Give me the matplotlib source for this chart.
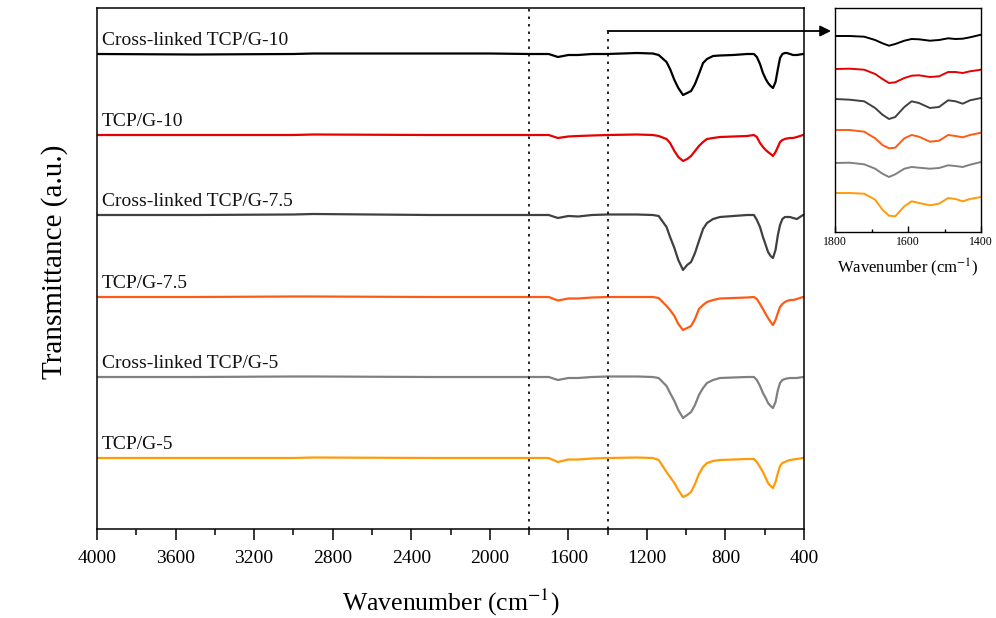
import matplotlib
matplotlib.use("Agg")
import matplotlib.pyplot as plt
import numpy as np

plt.rcParams['font.family'] = ['Liberation Serif', 'DejaVu Serif']
plt.rcParams['mathtext.fontset'] = 'stix'

# ---------------- data ----------------
series_names = ["Cross-linked TCP/G-10", "TCP/G-10", "Cross-linked TCP/G-7.5",
                "TCP/G-7.5", "Cross-linked TCP/G-5", "TCP/G-5"]

wavenumber = [4000, 3500, 3000, 2900, 2300, 2000, 1800, 1700, 1653, 1600, 1550, 1480, 1400,
              1250, 1170, 1140, 1100, 1082, 1060, 1040, 1016, 995, 975, 955, 935, 914, 894,
              863, 828, 760, 690, 655, 640, 624, 609, 595, 583, 570, 558, 545, 533, 522,
              510, 497, 487, 471, 456, 436, 405, 400]

# absorption depth (a.u.) below each curve's baseline
depth_xl10 = [0, 0.5, 0, -0.5, -0.5, -0.5, 0, 0, 3, 1, 1, 0, 0,
              -1, -0.5, 1, 8, 15, 26, 34, 41, 39, 37, 30, 20, 9, 5,
              2, 1.5, 1, 0, 0, 3, 10, 19, 25, 29, 32, 34, 28, 15, 4,
              0, -1, -1, 0, 1, 1, 0, 0]
depth_10 = [0, 0, 0, -0.5, 0, 0, 0, 0, 3, 1.5, 1, 0.5, 0,
            -0.5, 0, 1, 4, 8, 16, 22, 26, 24, 21, 16, 11, 7, 4,
            3, 2, 1.5, 1, 0, 2, 8, 12, 15, 17, 19, 21, 17, 12, 7,
            5, 4, 3.5, 3, 3, 2, 0, 0]
depth_xl75 = [0, 0, -0.5, -1, 0, 0, 0, 0, 3, 1, 1.5, 0, -0.5,
              -0.5, 0, 1, 12, 22, 33, 45, 55, 50, 47, 38, 26, 14, 8,
              4, 2, 1, 0, 0, 5, 12, 22, 30, 37, 41, 43, 35, 20, 10,
              4, 2, 2, 2, 3, 4, 0, 0]
depth_75 = [0, 0, -0.5, -0.5, 0, 0, 0, 0, 3.5, 1.5, 1.5, 0.5, 0,
            0, 0, 1, 9, 13, 19, 27, 33, 31, 29, 22, 12, 8, 5,
            3, 1.5, 1, 0.5, 0, 2, 7, 12, 17, 21, 25, 28, 23, 16, 10,
            7, 5, 4, 3, 3, 2, 0, 0]
depth_xl5 = [0, 0, -0.5, -0.5, 0, 0, 0, 0, 3, 1, 1, 0, -0.5,
             -0.5, 0, 1, 9, 16, 24, 33, 41, 38, 35, 28, 18, 11, 6,
             3, 1, 0.5, 0, 0, 3, 9, 16, 21, 26, 29, 31, 25, 13, 6,
             3, 2, 1.5, 1, 1, 1, 0, 0]
depth_5 = [0, 0, 0, -0.5, 0, 0, 0, 0, 4, 1.5, 1.5, 0.5, 0,
           -0.5, 0, 2, 14, 19, 25, 32, 39, 37, 34, 26, 16, 9, 5,
           3, 2, 1.5, 1, 1, 4, 9, 14, 20, 25, 28, 30, 24, 15, 8,
           5, 4, 3, 2, 1.5, 1, 0, -0.5]

# inset (1800-1400 cm-1) depths
inset_wavenumber = [1800, 1760, 1720, 1690, 1670, 1652, 1635, 1610, 1590, 1570, 1540,
                    1515, 1490, 1470, 1450, 1430, 1400]
inset_xl10 = [0, 0, 0.7, 4, 7.3, 9.7, 8, 4.7, 3, 3.3, 4.7, 4, 2.3, 3, 2.7, 1.3, -1.3]
inset_10 = [0, -0.3, 0.7, 5, 10, 14, 13.3, 9, 6.7, 6.3, 8, 7.3, 3, 3, 4, 2.3, 0.7]
inset_xl75 = [0, 0.7, 2.3, 9, 15.7, 20, 18, 8, 2.3, 4, 9, 8, 1.3, 2.3, 4.7, 1.3, -1]
inset_75 = [0, 0, 1.7, 8.3, 15, 18.3, 17.7, 8.3, 5, 6.7, 11.7, 10.7, 5, 6, 7.3, 5, 2.7]
inset_xl5 = [0, -0.3, 1.3, 5.7, 10.7, 14, 11.3, 5.7, 4, 4.7, 5.7, 5, 2.3, 3, 4, 1.7, -1]
inset_5 = [0, 0, 0.7, 6.7, 16.7, 22.7, 23.3, 13.3, 8.3, 10, 12.3, 10.7, 5, 6, 8.3, 6, 4]

main_depths = [depth_xl10, depth_10, depth_xl75, depth_75, depth_xl5, depth_5]
inset_depths = [inset_xl10, inset_10, inset_xl75, inset_75, inset_xl5, inset_5]

xticks_main = [4000, 3600, 3200, 2800, 2400, 2000, 1600, 1200, 800, 400]
xticks_inset = [1800, 1600, 1400]

# ---------------- style / layout ----------------
colors = ['#000000', '#e60000', '#404040', '#ff5a14', '#808080', '#ff9a0a']
main_offsets = [475, 394, 314, 232, 152, 71]
inset_offsets = [196, 163, 133, 102, 69, 39]

W, H = 996, 618
fig = plt.figure(figsize=(W / 100, H / 100), dpi=100)
fig.patch.set_facecolor('white')

def fx(px):
    return px / W

def fy(py):
    return 1 - py / H

ax = fig.add_axes([fx(97), fy(529), fx(804) - fx(97), fy(8) - fy(529)])
for name, d, off, c in zip(series_names, main_depths, main_offsets, colors):
    ax.plot(wavenumber, off - np.array(d), color=c, lw=1.6, solid_joinstyle='round')
    ax.text(3975, off + 9, name, fontsize=14, ha='left', va='baseline', color='#111111')

ax.set_xlim(4000, 400)
ax.set_ylim(0, 521)
ax.set_xticks(xticks_main)
ax.set_xticks(np.arange(400, 4001, 200), minor=True)
ax.set_xticklabels([str(t) for t in xticks_main], fontsize=14)
ax.set_yticks([])
ax.tick_params(axis='x', which='major', direction='out', length=8, width=1.1, pad=7)
ax.tick_params(axis='x', which='minor', direction='out', length=4.5, width=1.1)
for s in ax.spines.values():
    s.set_linewidth(1.1)

# dotted guide lines
ax.axvline(1800, color='k', lw=1.2, dashes=(1.5, 3))
ax.plot([1400, 1400], [0, 498], color='k', lw=1.2, dashes=(1.5, 3))

# arrow to inset
ax.annotate('', xy=(fx(831), fy(31)), xycoords='figure fraction',
            xytext=(1400, 498), textcoords='data',
            arrowprops=dict(arrowstyle='-|>', lw=1.3, color='k', mutation_scale=16,
                            shrinkA=0, shrinkB=0),
            annotation_clip=False)

fig.text(fx(55), fy(262), 'Transmittance (a.u.)', rotation=90, ha='center', va='center',
         fontsize=21)
fig.text(fx(451), fy(602), r'Wavenumber (cm$^{-1}$)', ha='center', va='center', fontsize=18.5)

# inset
axi = fig.add_axes([fx(835), fy(232), fx(981) - fx(835), fy(8) - fy(232)])
for d, off, c in zip(inset_depths, inset_offsets, colors):
    axi.plot(inset_wavenumber, off - np.array(d), color=c, lw=1.4, solid_joinstyle='round')
axi.set_xlim(1800, 1400)
axi.set_ylim(0, 224)
axi.set_xticks(xticks_inset)
axi.set_xticks([1700, 1500], minor=True)
axi.set_xticklabels([str(t) for t in xticks_inset], fontsize=8.5)
axi.set_yticks([])
axi.tick_params(axis='x', which='major', direction='in', length=4, width=1.0, pad=3)
axi.tick_params(axis='x', which='minor', direction='in', length=2.5, width=1.0)
for s in axi.spines.values():
    s.set_linewidth(1.0)
fig.text(fx(908), fy(268), r'Wavenumber (cm$^{-1}$)', ha='center', va='center', fontsize=12)

fig.savefig('out.png', dpi=100, facecolor='white')
